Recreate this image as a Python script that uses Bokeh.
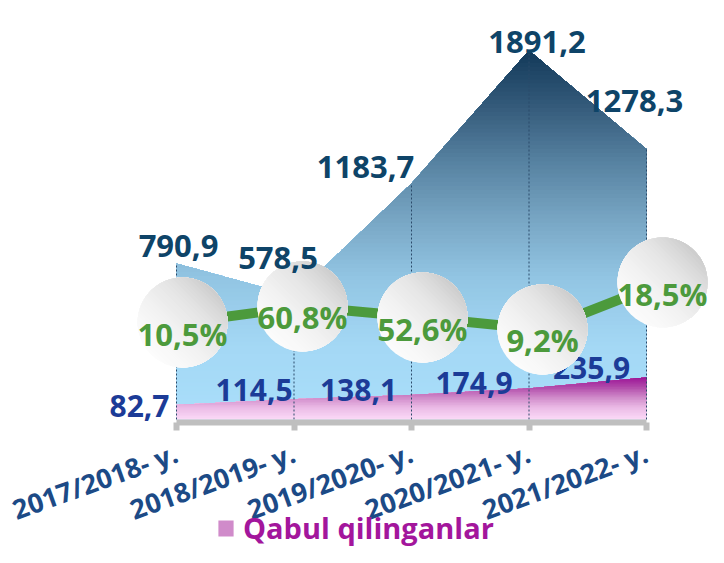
import numpy as np
from bokeh.plotting import figure
from bokeh.models import Range1d, FixedTicker, Legend, LegendItem
from bokeh.core.properties import value
from bokeh.embed import file_html
from bokeh.resources import INLINE

# ---------------- data ----------------
years = ["2017/2018- y.", "2018/2019- y.", "2019/2020- y.", "2020/2021- y.", "2021/2022- y."]
applicants = [790.9, 578.5, 1183.7, 1891.2, 1278.3]      # big (stacked) area
admitted = [82.7, 114.5, 138.1, 174.9, 235.9]            # "Qabul qilinganlar"
pct = [10.5, 60.8, 52.6, 9.2, 18.5]                      # bubble labels
pct_level = [543, 633, 571, 504, 767]                    # height of the green line (primary units)
legend_label = "Qabul qilinganlar"

# ---------------- geometry / style ----------------
W, H = 708, 547
PXY = 0.1786            # px per unit (y)
ZERO = 419              # frame px of value 0
X0, DX = 176, 117.5     # category axis: first category px, spacing
LX0, LDX = 182, 120.0   # line (secondary) axis

FONT = value("Open Sans")

def fmt(v):
    return f"{v:.1f}".replace(".", ",")

def hex2rgb(h):
    h = h.lstrip("#")
    return [int(h[i:i + 2], 16) for i in (0, 2, 4)]

def ramp(stops, f):
    f = min(max(f, stops[0][0]), stops[-1][0])
    for (f0, c0), (f1, c1) in zip(stops[:-1], stops[1:]):
        if f <= f1:
            t = 0 if f1 == f0 else (f - f0) / (f1 - f0)
            a, b = hex2rgb(c0), hex2rgb(c1)
            return "#%02x%02x%02x" % tuple(int(round(a[i] + (b[i] - a[i]) * t)) for i in range(3))
    return stops[-1][1]

idx = np.arange(len(years))
adm = np.array(admitted)
top = adm + np.array(applicants)

p = figure(width=W, height=H,
           x_range=Range1d(-X0 / DX, (W - X0) / DX),
           y_range=Range1d(-(H - ZERO) / PXY, ZERO / PXY),
           output_backend="svg", toolbar_location=None, min_border=0)
p.extra_x_ranges = {"line": Range1d(-LX0 / LDX, (W - LX0) / LDX)}
p.outline_line_color = None
p.grid.visible = False
p.yaxis.visible = False
p.background_fill_color = "white"
p.border_fill_color = "white"

xs = np.linspace(0, len(years) - 1, 481)
top_d = np.interp(xs, idx, top)
adm_d = np.interp(xs, idx, adm)

# big area, vertical gradient
big_stops = [(0.0, "#a9defa"), (0.19, "#a4d8f5"), (0.38, "#92c5e3"), (0.54, "#77a5c3"),
             (0.70, "#55809f"), (0.84, "#355b7b"), (1.0, "#113858")]
n_big = 90
tmax = top.max()
for L in np.linspace(0, tmax, n_big, endpoint=False):
    p.varea(x=xs, y1=np.full_like(xs, L), y2=np.maximum(top_d, L),
            fill_color=ramp(big_stops, L / tmax), fill_alpha=1.0)

# admitted area, vertical gradient
pink_stops = [(0.0, "#fad8f6"), (0.26, "#ebbbe6"), (0.5, "#d08bca"), (0.74, "#b24cab"), (1.0, "#9a0f94")]
n_pink = 26
amax = adm.max()
pink_renderers = []
for L in np.linspace(0, amax, n_pink, endpoint=False):
    r = p.varea(x=xs, y1=np.full_like(xs, L), y2=np.maximum(adm_d, L),
                fill_color=ramp(pink_stops, L / amax), fill_alpha=1.0)
    pink_renderers.append(r)

# dotted drop lines
p.segment(x0=idx, y0=np.zeros(len(idx)), x1=idx, y1=top,
          line_color="#2b4a6a", line_dash="2 2", line_width=1)

# admitted labels
p.text(x=idx, y=adm, text=[fmt(v) for v in admitted],
       x_offset=[-37, -40, -53, -55, -55], y_offset=[1, -9, -5, -5, -9],
       text_font=FONT, text_font_style="bold", text_font_size="30px",
       text_color="#1c3b97", text_align="center", text_baseline="alphabetic")

# green line
p.line(x=idx, y=pct_level, x_range_name="line", line_color="#4c9a3c", line_width=10)

# bubbles: circle segments painted in bands -> diagonal linear gradient
R = 45.0
n_bands = 30
bub_stops = [(-1.0, "#fcfcfc"), (-0.3, "#f3f3f3"), (0.3, "#e6e6e6"), (0.7, "#d9d9d9"), (1.0, "#cbcbcb")]
ux, uy = 0.7071, -0.7071      # screen direction towards top-right
vx, vy = 0.7071, 0.7071       # perpendicular
bx, by, bc = [], [], []
for s in np.linspace(-1.0, 1.0, n_bands, endpoint=False):
    a = np.arccos(s)
    phi = np.linspace(-a, a, 48)
    px = R * (np.cos(phi) * ux + np.sin(phi) * vx)
    py = R * (np.cos(phi) * uy + np.sin(phi) * vy)
    col = ramp(bub_stops, s)
    for i in idx:
        bx.append(i + px / LDX)
        by.append(pct_level[i] - py / PXY)
        bc.append(col)
p.patches(xs=bx, ys=by, x_range_name="line", fill_color=bc, line_color=None)

# percentage labels
p.text(x=idx, y=pct_level, x_range_name="line", text=[fmt(v) + "%" for v in pct],
       y_offset=11, text_font=FONT, text_font_style="bold", text_font_size="31px",
       text_color="#4c9a3c", text_align="center", text_baseline="alphabetic")

# applicants labels
p.text(x=idx, y=top, text=[fmt(v) for v in applicants],
       x_offset=[2, -16, -46, 8, -12], y_offset=[-17, -38, -16, -8, -48],
       text_font=FONT, text_font_style="bold", text_font_size="31px",
       text_color="#0e4468", text_align="center", text_baseline="alphabetic")

# category axis
ax = p.xaxis[0]
ax.fixed_location = -3 / PXY
ax.ticker = FixedTicker(ticks=[int(i) for i in idx])
ax.major_label_overrides = {int(i): years[i] for i in idx}
ax.bounds = (0, len(years) - 1)
ax.axis_line_color = "#bfbfbf"
ax.axis_line_width = 6
ax.major_tick_line_color = "#bfbfbf"
ax.major_tick_line_width = 6
ax.major_tick_out = 8
ax.major_tick_in = 0
ax.minor_tick_line_color = None
ax.major_label_orientation = 0.345
ax.major_label_standoff = 21
ax.major_label_text_font = "Open Sans"
ax.major_label_text_font_style = "bold"
ax.major_label_text_font_size = "27px"
ax.major_label_text_color = "#1c4a86"

legend = Legend(items=[LegendItem(label=legend_label, renderers=[pink_renderers[n_pink // 2]])],
                location=(216, 0), padding=0, margin=0, spacing=0,
                glyph_width=19, glyph_height=20, label_standoff=8,
                border_line_color=None, background_fill_alpha=0,
                label_text_font="Open Sans", label_text_font_style="bold",
                label_text_font_size="29px", label_text_color="#a3169c")
p.add_layout(legend)

open("out.html", "w").write(file_html(p, INLINE))
